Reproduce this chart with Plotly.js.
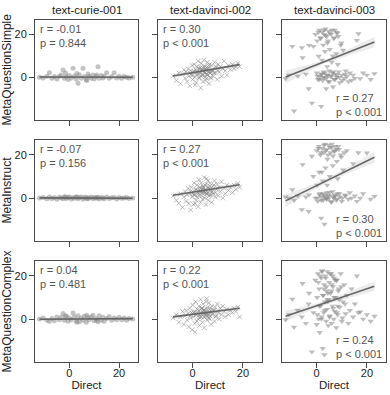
<!DOCTYPE html>
<html>
<head>
<meta charset="utf-8">
<script src="https://cdn.plot.ly/plotly-3.0.1.min.js"></script>
<style>
  html, body { margin: 0; padding: 0; background: #fff; }
  #chart { width: 390px; height: 395px; }
</style>
</head>
<body>
<div id="chart"></div>
<script>
const models = ['text-curie-001', 'text-davinci-002', 'text-davinci-003'];
const prompts = ['MetaQuestionSimple', 'MetaInstruct', 'MetaQuestionComplex'];

// r / p labels, rows = prompts, cols = models
const rLabels = [['-0.01', '0.30', '0.27'], ['-0.07', '0.27', '0.30'], ['0.04', '0.22', '0.24']];
const pLabels = [['= 0.844', '< 0.001', '< 0.001'], ['= 0.156', '< 0.001', '< 0.001'], ['= 0.481', '< 0.001', '< 0.001']];

// text-curie-001 : Direct score (x) and meta scores (y)
const curieX = [-12, -10.5, -9, -8, -7, -6, -5, -4, -3.2, -2.5,
  -2, -1.2, -0.5, 0, 0.8, 1.5, 2, 2.8, 3.5, 4,
  4.8, 5.5, 6, 6.8, 7.5, 8, 8.8, 9.5, 10, 10.8,
  11.5, 12, 12.8, 13.5, 14, 15, 16, 17, 18, 19,
  20, 21, 22, 23, 24, 25.5, 3, 7, 11, -1.5];
const curieSimple = [0, -0.3, 0.5, 2.1, -0.5, 0.3, -0.8, 0.5, 1, 3.4,
  -0.5, 0.2, -1, 0.8, -0.3, 4.2, 0.5, -0.8, -2.8, 1.2,
  -0.5, 4.2, 0.3, -1, 1.5, 0.5, -0.5, 1, -0.8, 0.3,
  4.9, -0.5, 0.8, -0.3, 0.5, 2.1, -0.5, 0.3, 2.1, -0.3,
  0.5, -0.5, 0.3, 0, -0.3, 0, 1.8, -1.5, 1, 2];
const curieInstruct = [0, 0.3, -0.3, 0.5, -0.2, 0.2, -0.5, 0.4, 0, -0.3,
  0.6, -0.2, 0.3, 0.5, -0.4, 0.2, -0.1, 0.6, -0.3, 0.3,
  0.5, -0.5, 0.2, 0.4, -0.2, 0, 0.5, -0.3, 0.3, -0.1,
  0.4, -0.4, 0.2, 0, -0.3, 0.5, -0.2, 0.1, 0.3, -0.4,
  0.2, -0.1, 0, 0.3, -0.2, 0, 0.4, -0.3, 0.2, 0.5];
const curieComplex = [0, 0.5, -0.5, -1, 0.3, -0.8, 1, -0.3, 0.8, 2.6,
  -0.5, 1.2, -1, 0.5, -0.3, 2.8, 1, -0.8, 1.5, -1.2,
  0.5, -0.5, 1.3, -1.5, 0.8, -0.3, 1, 1.8, -0.8, 0.3,
  -1.3, 1.5, -0.5, 0.8, -1, 0.3, 1.2, -0.5, 0.5, -0.3,
  0.8, -0.3, 0.5, -0.6, 0.3, 0, -1.5, 1.8, -0.5, 1.5];

// text-davinci-002
const dv2X = [-7.8, -6.5, -5.5, -4.8, -4, -3.5, -3, -2.6, -2.2, -1.8,
  -1.5, -1.1, -0.8, -0.5, -0.2, 0, 0.3, 0.6, 0.9, 1.2,
  1.4, 1.7, 2, 2.2, 2.5, 2.7, 3, 3.2, 3.4, 3.7,
  3.9, 4.1, 4.4, 4.6, 4.8, 5, 5.3, 5.5, 5.8, 6,
  6.2, 6.5, 6.8, 7, 7.3, 7.6, 8, 8.3, 8.7, 9,
  9.4, 9.8, 10.2, 10.6, 11, 11.5, 12, 12.5, 13, 13.6,
  14.2, 15, 15.8, 16.5, 17.2, 18, 18.7, 1, 4, 5.6,
  -1, 0.5, 1.5, 2.3, 2.9, 3.3, 3.6, 4.2, 4.5, 4.9,
  5.2, 5.7, 6.1, 6.6, 7.1, 7.8, 8.5, 9.2, 10, 0,
  1.8, 3.1, 4.3, 5.4, 6.4, 7.4, 2.6, 3.8, 5.1, 6.9];
const dv2Simple = [0.5, -1.5, 2, -3, 1.5, 3.5, -0.5, 2.5, -2, 4,
  0.5, -4, 3, 1, 5.5, -1, 2.5, 6, 0, 3.5,
  -2.5, 5, 1.5, 7.5, -0.5, 4, 2, -5, 6.5, 1,
  3.5, -2, 8, 2.5, 0, 5, -1.5, 3, 7, 1,
  4.5, -3, 6, 2, -0.5, 5.5, 3, 0.5, 7, 2,
  4.5, -1, 6, 2.5, 5, 0.5, 4, 7.5, 3, 1,
  5.5, 3.5, 6, 4, 5, 6.5, 5, -3.5, 4.5, -0.5,
  2, 3, 1.5, 4, 2.5, 0.5, 3.5, 1, 5, 2,
  3.5, 1.5, 4, 2.5, 0, 3.5, 2, 5, 3, 1,
  2.5, 4.5, 3, 1.5, 5.5, 2.5, 0, 3, 4, 2];
const dv2Instruct = [1, -1, -2.4, 2, -4.3, 0.5, 3, -1.5, 1.5, 4.5,
  -2.5, 2, -5.5, 5, 0.5, 3, -3, 7, 1.5, 4,
  -1, 6, 2.5, -4, 8.5, 1, 4.5, -2, 7, 2.5,
  -0.5, 5.5, 3, 9.5, 0, 4, -3, 6.5, 2, 8,
  -1, 4.5, 1.5, 7, 3, -2, 5.5, 2, 8, 0.5,
  4, 6.5, 1, 5, 3, 7.5, 0, 4.5, 2, 6,
  3.5, 5, 2.5, 6, 4, 6.8, 5, -2.5, 3.5, 9,
  3, 1.5, 4, 2, 5, 3, 1, 4.5, 2.5, 6,
  3.5, 2, 5, 1, 4, 3, 6, 2.5, 4.5, 2,
  0.5, 3.5, 5, 2, 4, 1.5, 3, 4, 2.5, 5.5];
const dv2Complex = [0.5, 2, -1.5, 1, 3.5, -2.5, 1.5, 4, -0.5, 2.5,
  -3.5, 5, 0.5, 3, -5, 6.5, 1, 3.5, -2, 8,
  2, -1, 4.5, 0, 6, -3, 3, 9, 1, 5,
  -1.5, 7, 2.5, -4, 4.5, 1, 8, 3, -0.5, 5.5,
  2, 7.5, 0, 4, -2.5, 6, 2.5, 4, -1, 5.5,
  1.5, 7, 3, 0, 5, 2, 6, 3.5, 1, 4.5,
  2, 4, 3, 5, 3.5, 5.5, 1, -6, 3.5, 9.5,
  1.5, 3, 2, 4, 0.5, 2.5, 5, 3, 1, 3.5,
  2, 4.5, 1.5, 3, 5, 2, 4, 1, 3.5, 2.5,
  3, 1.5, 4, 2.5, 0.5, 3.5, 2, 5, 3, 1.5];

// text-davinci-003
const dv3X = [-12.4, -11, -9.7, -9, -7.5, -5.9, -5.6, -4.3, -3.2, -3,
  -1.9, -1.3, -0.5, 0, 0.2, 0.5, 0.8, 1, 1.2, 1.5,
  1.8, 2, 2.2, 2.4, 2.6, 2.8, 3, 3.1, 3.3, 3.5,
  3.8, 4, 4.1, 4.3, 4.6, 4.8, 5, 5.2, 5.5, 5.8,
  6, 6.3, 6.5, 6.8, 7, 7.2, 7.5, 7.8, 8, 8.3,
  8.8, 9.2, 9.6, 10, 10.5, 11, 11.5, 12, 12.6, 13.2,
  13.9, 14.5, 15.2, 16, 16.6, 17.3, 18.5, 20, 21.5, 23,
  0.3, 1.1, 1.9, 2.5, 3.2, 3.9, 4.4, 5.1, 5.9, 6.6,
  7.3, 8.1, 9, 10.2, 11.3, 0.7, 1.6, 2.9, 3.6, 4.5,
  5.3, 6.1, 7, 7.9, 8.6, 9.8, 2.1, 4.2, 6.4, 8.4];
const dv3Simple = [-0.6, 1, 14.4, -15.7, 0.5, 13.8, 9.1, 1.5, -5.3, 14.9,
  -12, 14.4, 20, 2, 17, -1, 9.8, 22, 0.5, 18.5,
  -13.5, 1.5, 21, -1.5, 15, 2.5, 20, 0, 12, 22.5,
  -5.3, 19, 1, 16, -2, 21.5, 3, 13, 0.5, 20,
  7, 2, -4.5, 18, -1, 22, 1.5, 11, 0, 20.5,
  2.5, -2.5, 15, 1, 12.6, -0.5, 3, 0.5, -2, 2,
  -1.4, 1, -0.5, 17.2, 20.3, -0.6, 2, 1, -1, 1.7,
  0.5, -1, 1.5, 0, 2, -0.5, 1, -2, 0.5, 2.5,
  -1, 1, 0, -1.5, 1.5, 21, 18, 22, 19.5, 17,
  20.5, 22, 18.5, 21, 19, 16, 8, 5, 10, 6];
const dv3Instruct = [0.5, 0, 3.9, -1, 1, -5.4, 15.5, 0.5, -6.2, 1.5,
  19.4, 10, 0, 22, 6, -1.5, 24, 12, 2, 20,
  -9.3, 0.5, 23, 8, -1, 21, 1.5, -12.1, 25, 14,
  0, 22.5, 2.5, 18, -0.5, 24.5, 1, 10, 21, -2,
  23.5, 3, 19.5, 0, 22, 1.5, 24, -1, 17, 2,
  22.5, 0.5, 20, -1.5, 13, 21, 1, 22, -0.5, 2.5,
  0, 16, 1, -1.5, 21, 0, 2, 20.9, -0.5, 0.8,
  0, 1.5, -1, 2, 0.5, -0.5, 1, 2.5, -1.5, 0.5,
  1, -0.5, 2, 0, 1.5, 23, 21, 24.5, 22, 20,
  23.5, 25, 21.5, 22.5, 24, 19, 12, 6, 15, 9];
const dv3Complex = [-0.3, 2, 9.2, -3.8, 4, 1, 16.5, -2, 7, 12,
  -15.2, 3, 18, -2.5, 10, 21, 0, 14, -6.2, 6,
  19, 1, 22.4, -13.6, 11, 3, 16, -16.5, 8, 20,
  -1, 13, 4.5, 22, -3, 9, 17, 1.5, 12, 21,
  -2, 6, 15, 0, 19, 3.5, 10, -4, 18, 2,
  14, 5.5, 21, -1, 8, 16, 2.5, 11, -2, 4,
  14, 1, 7, 20, 3, 3.3, 0, 2, -1, 1.3,
  2, 6, 0, 11, 4, 15, 8, 1, 13, 5,
  18, 3, 9, 0.5, 7, 17, 20, 14, 19, 12,
  21, 16, 10, 18, 13, 15, 22, 9, 20, 6];

// regression lines + 95% band
const fitXCurie = [-12, 6, 25.5];
const fitCurieSimple = [0.1, 0.05, 0], loCurieSimple = [-0.4, -0.2, -0.5], hiCurieSimple = [0.6, 0.3, 0.5];
const fitCurieInstruct = [0.1, 0, -0.1], loCurieInstruct = [-0.1, -0.1, -0.3], hiCurieInstruct = [0.3, 0.1, 0.1];
const fitCurieComplex = [-0.1, 0.05, 0.2], loCurieComplex = [-0.5, -0.1, -0.2], hiCurieComplex = [0.3, 0.2, 0.6];

const fitXDv2 = [-7.8, -1, 4, 11, 18.7];
const fitDv2Simple = [0.6, 1.96, 2.96, 4.36, 5.9], loDv2Simple = [-0.5, 1.5, 2.6, 3.8, 4.8], hiDv2Simple = [1.7, 2.4, 3.3, 4.9, 7.0];
const fitDv2Instruct = [1.3, 2.57, 3.5, 4.81, 6.2], loDv2Instruct = [0.2, 2.1, 3.15, 4.25, 5.1], hiDv2Instruct = [2.4, 3.05, 3.85, 5.35, 7.3];
const fitDv2Complex = [1, 2.06, 2.82, 3.88, 5], loDv2Complex = [-0.1, 1.6, 2.45, 3.35, 3.9], hiDv2Complex = [2.1, 2.5, 3.2, 4.4, 6.1];

const fitXDv3 = [-12.4, -4, 4, 12, 23];
const fitDv3Simple = [0.1, 3.97, 7.65, 11.33, 16.4], loDv3Simple = [-2.9, 2.3, 6.8, 10, 14.1], hiDv3Simple = [3.1, 5.6, 8.5, 12.7, 18.7];
const fitDv3Instruct = [-1.3, 3.5, 8.06, 12.6, 18.9], loDv3Instruct = [-4.2, 1.8, 7.1, 11.2, 16.4], hiDv3Instruct = [1.6, 5.2, 9.0, 14.0, 21.4];
const fitDv3Complex = [1.3, 4.6, 7.74, 10.88, 15.2], loDv3Complex = [-1.3, 3.1, 6.9, 9.6, 13.0], hiDv3Complex = [3.9, 6.1, 8.6, 12.2, 17.4];

const xCols = [curieX, dv2X, dv3X];
const yGrid = [[curieSimple, dv2Simple, dv3Simple], [curieInstruct, dv2Instruct, dv3Instruct], [curieComplex, dv2Complex, dv3Complex]];
const fitXCols = [fitXCurie, fitXDv2, fitXDv3];
const fitGrid = [[fitCurieSimple, fitDv2Simple, fitDv3Simple], [fitCurieInstruct, fitDv2Instruct, fitDv3Instruct], [fitCurieComplex, fitDv2Complex, fitDv3Complex]];
const loGrid = [[loCurieSimple, loDv2Simple, loDv3Simple], [loCurieInstruct, loDv2Instruct, loDv3Instruct], [loCurieComplex, loDv2Complex, loDv3Complex]];
const hiGrid = [[hiCurieSimple, hiDv2Simple, hiDv3Simple], [hiCurieInstruct, hiDv2Instruct, hiDv3Instruct], [hiCurieComplex, hiDv2Complex, hiDv3Complex]];

const W = 390, H = 395;
const colPx = [[35, 138], [158, 262], [282, 386]];
const rowPx = [[19.5, 120], [140, 241], [261, 362]];
const frame = '#4a4a4a';
const font = 'Liberation Sans, Arial, sans-serif';

let data = [];
let layout = {
  width: W, height: H,
  margin: {l: 0, r: 0, t: 0, b: 0},
  paper_bgcolor: '#fff', plot_bgcolor: '#fff',
  showlegend: false,
  font: {family: font, color: '#222'},
  annotations: []
};

const markerFor = [
  {symbol: 'circle', size: 5, color: 'rgba(135,135,135,0.5)', line: {width: 0}},
  {symbol: 'x-thin', size: 4.5, color: 'rgba(130,130,130,0.6)', line: {width: 0.9, color: 'rgba(130,130,130,0.6)'}},
  {symbol: 'triangle-down', size: 5.5, color: 'rgba(135,135,135,0.55)', line: {width: 0}}
];

for (let r = 0; r < 3; r++) {
  for (let c = 0; c < 3; c++) {
    let k = r * 3 + c + 1;
    let xa = 'x' + k, ya = 'y' + k;
    let fx = fitXCols[c];

    data.push({
      x: fx.concat(fx.slice().reverse()),
      y: loGrid[r][c].concat(hiGrid[r][c].slice().reverse()),
      xaxis: xa, yaxis: ya,
      mode: 'lines', fill: 'toself',
      fillcolor: 'rgba(200,200,200,0.35)',
      line: {width: 0}, hoverinfo: 'skip'
    });
    data.push({
      x: xCols[c], y: yGrid[r][c],
      xaxis: xa, yaxis: ya,
      mode: 'markers', marker: markerFor[c]
    });
    data.push({
      x: fx, y: fitGrid[r][c],
      xaxis: xa, yaxis: ya,
      mode: 'lines', line: {color: '#666', width: 1.6}
    });

    let axBase = {
      showline: true, mirror: true, linecolor: frame, linewidth: 1,
      ticks: 'outside', ticklen: 5, tickwidth: 1, tickcolor: frame,
      showgrid: false, zeroline: false,
      tickfont: {size: 11, color: '#222', family: font}
    };
    layout['xaxis' + k] = Object.assign({}, axBase, {
      domain: [colPx[c][0] / W, colPx[c][1] / W],
      anchor: ya, range: [-13.8, 27.6], tickvals: [0, 20],
      showticklabels: r == 2, ticklabelstandoff: -4
    });
    if (r == 2)
      layout['xaxis' + k].title = {text: 'Direct', font: {size: 11.5, color: '#222'}, standoff: 0};
    layout['yaxis' + k] = Object.assign({}, axBase, {
      domain: [1 - rowPx[r][1] / H, 1 - rowPx[r][0] / H],
      anchor: xa, range: [-19.9, 26.9], tickvals: [0, 20],
      showticklabels: c == 0
    });
    if (c == 0)
      layout['yaxis' + k].title = {text: prompts[r], font: {size: 12, color: '#222'}, standoff: 5};

    let txt = 'r = ' + rLabels[r][c] + '<br>p ' + pLabels[r][c];
    if (c < 2) {
      layout.annotations.push({
        xref: xa + ' domain', yref: ya + ' domain', x: 0.03, y: 0.99,
        xanchor: 'left', yanchor: 'top', align: 'left', showarrow: false,
        text: txt, font: {size: 11, color: '#555', family: font}
      });
    } else {
      layout.annotations.push({
        xref: xa + ' domain', yref: ya + ' domain', x: 0.5, y: 0.0,
        xanchor: 'left', yanchor: 'bottom', align: 'left', showarrow: false,
        text: txt, font: {size: 11, color: '#555', family: font}
      });
    }
  }
}

models.forEach((m, c) => {
  layout.annotations.push({
    xref: 'x' + (c + 1) + ' domain', yref: 'paper', x: 0.5, y: 1 - 10 / H,
    xanchor: 'center', yanchor: 'middle', showarrow: false,
    text: m, font: {size: 11.5, color: '#222', family: font}
  });
});

Plotly.newPlot('chart', data, layout, {displayModeBar: false, staticPlot: true});
</script>
</body>
</html>
